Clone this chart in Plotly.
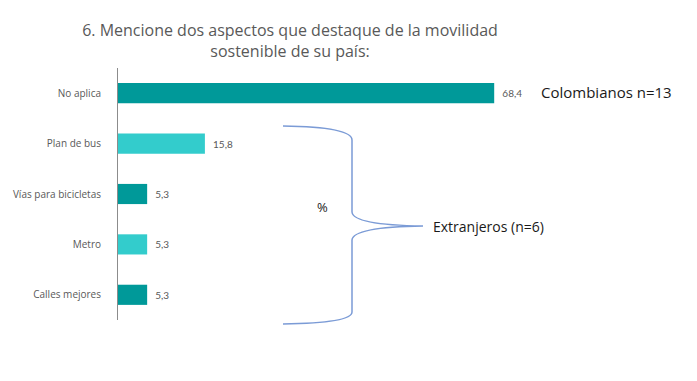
import plotly.graph_objects as go

categories = ["No aplica", "Plan de bus", "Vías para bicicletas", "Metro", "Calles mejores"]
values = [68.4, 15.8, 5.3, 5.3, 5.3]
bar_colors = ["#009999", "#33CCCC", "#009999", "#33CCCC", "#009999"]

OFF = 8  # page body margin
W, H = 697 - OFF, 381 - OFF
# reference pixel positions of the plot area
AX_L, AX_T, AX_B, AX_R = 118, 68, 320, 688
L, T = AX_L - OFF, AX_T - OFF
R = W - (AX_R - OFF)
B = H - (AX_B - OFF)
PW, PH = W - L - R, H - T - B

def fx(px):
    return (px - AX_L) / PW

def fy(py):
    return (AX_B - py) / PH

fig = go.Figure(go.Bar(
    y=categories, x=values, orientation="h",
    marker=dict(color=bar_colors, line=dict(width=0)),
    texttemplate="\u00a0\u00a0%{x:.1f}", textposition="outside",
    textfont=dict(size=10, color="#595959", family="Lato"),
    cliponaxis=False, width=0.4,
))

brace_pts = "M {a},{b} Q {c},{d} {e},{f} L {g},{h} Q {i},{j} {k},{l} Q {m},{n} {o},{p} L {q},{r} Q {s},{t} {u},{v}".format(
    a=fx(283), b=fy(126), c=fx(352), d=fy(127), e=fx(352), f=fy(140),
    g=fx(352), h=fy(212), i=fx(353), j=fy(225), k=fx(423), l=fy(226),
    m=fx(353), n=fy(227), o=fx(352), p=fy(240),
    q=fx(352), r=fy(312), s=fx(352), t=fy(323), u=fx(283), v=fy(324))

fig.update_layout(
    width=W, height=H,
    margin=dict(l=L, r=R, t=T, b=B, pad=0, autoexpand=False),
    paper_bgcolor="white", plot_bgcolor="white",
    separators=",.",
    showlegend=False,
    font=dict(family="Open Sans", color="#595959"),
    title=dict(text="6. Mencione dos aspectos que destaque de la movilidad<br>sostenible de su país:",
               x=(290 - OFF) / W, xanchor="center", y=1 - (36 - OFF) / H, yanchor="middle",
               font=dict(size=16, color="#595959", family="Open Sans"), automargin=False),
    xaxis=dict(range=[0, PW / 5.5], visible=False, fixedrange=True, automargin=False),
    yaxis=dict(categoryorder="array", categoryarray=categories[::-1], automargin=False,
               showline=True, linecolor="#8c8c8c", linewidth=1, showgrid=False,
               ticks="", ticklabelstandoff=14, tickfont=dict(size=10, color="#595959", family="Open Sans"),
               zeroline=False),
    bargap=0.6,
    shapes=[dict(type="path", xref="paper", yref="paper", path=brace_pts,
                 line=dict(color="#7b9bd6", width=1.5))],
    annotations=[
        dict(text="Colombianos n=13", xref="paper", yref="paper", x=fx(539), y=fy(92),
             xanchor="left", yanchor="middle", showarrow=False,
             font=dict(size=15, color="#1a1a1a", family="Open Sans")),
        dict(text="%", xref="paper", yref="paper", x=fx(322), y=fy(207),
             xanchor="center", yanchor="middle", showarrow=False,
             font=dict(size=13, color="#1a1a1a", family="Open Sans")),
        dict(text="Extranjeros (n=6)", xref="paper", yref="paper", x=fx(431), y=fy(226),
             xanchor="left", yanchor="middle", showarrow=False,
             font=dict(size=14, color="#1a1a1a", family="Open Sans")),
    ],
)

fig.write_html("out.html")
